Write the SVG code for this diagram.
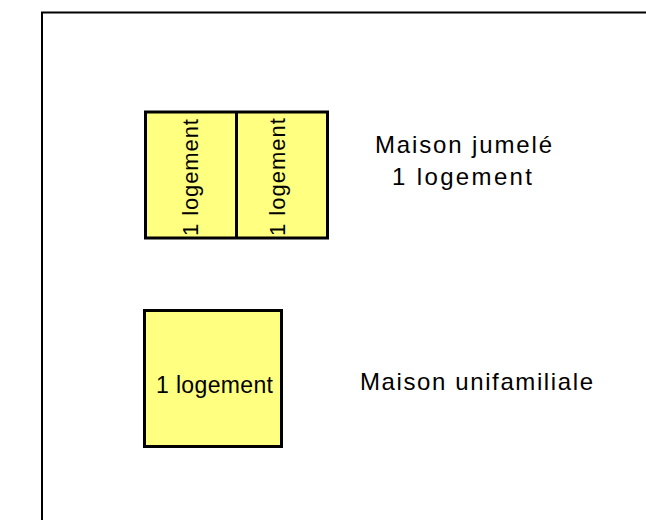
<svg xmlns="http://www.w3.org/2000/svg" width="646" height="520" viewBox="0 0 646 520">
<style>
.box{fill:#FFFF80;stroke:#000;stroke-width:3;stroke-linejoin:miter}
.frame{fill:none;stroke:#000;stroke-width:2}
.t{font-family:"Liberation Sans","DejaVu Sans",Arial,sans-serif;font-size:22px;fill:#000}
.l{font-size:24px}
</style>
<rect width="646" height="520" fill="#fff"/>
<g id="frame">
<polyline class="frame" points="42,520 42,12.5 646,12.5"/>
</g>
<g id="jumele">
<rect class="box" x="145.5" y="112" width="182" height="126"/>
<line x1="236.5" y1="112" x2="236.5" y2="238" stroke="#000" stroke-width="3"/>
<text class="t" transform="translate(198,236) rotate(-90)" textLength="117" lengthAdjust="spacing">1 logement</text>
<text class="t" transform="translate(285,236) rotate(-90)" textLength="118" lengthAdjust="spacing">1 logement</text>
</g>
<g id="unifamiliale">
<rect class="box" x="144.5" y="310.5" width="137" height="136"/>
<text class="t" x="156" y="393" style="font-size:23px" textLength="117" lengthAdjust="spacing">1 logement</text>
</g>
<g id="labels">
<text class="t l" x="375" y="153" textLength="177" lengthAdjust="spacing">Maison jumelé</text>
<text class="t l" x="392" y="185" textLength="140" lengthAdjust="spacing">1 logement</text>
<text class="t l" x="360" y="390" textLength="233" lengthAdjust="spacing">Maison unifamiliale</text>
</g>
</svg>
